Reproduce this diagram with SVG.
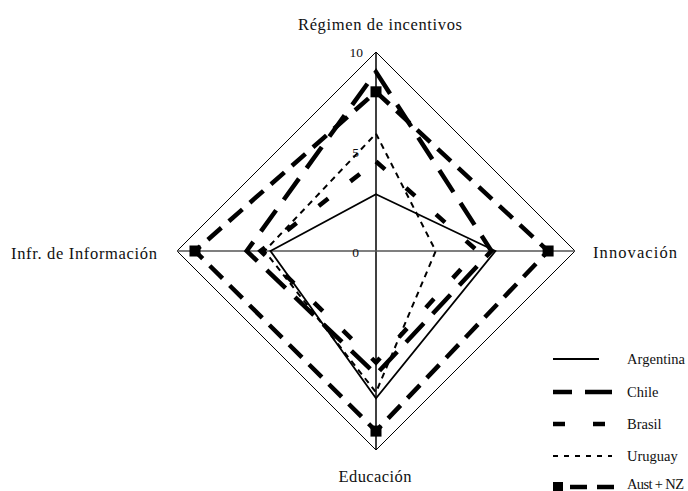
<svg xmlns="http://www.w3.org/2000/svg" width="688" height="491" viewBox="0 0 688 491">
<style>
text{font-family:"Liberation Serif","Times New Roman",serif;fill:#111}
.lab{font-size:16.5px}
.tick{font-size:13.5px}
.leg{font-size:14.5px}
.arg{fill:none;stroke:#000;stroke-width:1.8}
.chi{fill:none;stroke:#000;stroke-width:4.5;stroke-dasharray:26 13}
.bra{fill:none;stroke:#000;stroke-width:4.5;stroke-dasharray:12 28}
.uru{fill:none;stroke:#000;stroke-width:2;stroke-dasharray:6 5}
.aus{fill:none;stroke:#000;stroke-width:4.5;stroke-dasharray:18 10}
.sq{fill:#000}
</style>
<rect width="688" height="491" fill="#fff"/>
<g id="grid">
<polygon points="376,52 575,251 376,450 177,251" fill="none" stroke="#000" stroke-width="1"/>
<line x1="376" y1="52" x2="376" y2="450" stroke="#000" stroke-width="1.5"/>
<line x1="177" y1="251" x2="575" y2="251" stroke="#555" stroke-width="1.5"/>
<text class="tick" x="363" y="57" text-anchor="end">10</text>
<text class="tick" x="359" y="157" text-anchor="end">5</text>
<text class="tick" x="359" y="257" text-anchor="end">0</text>
</g>
<g id="axis-labels">
<text class="lab" x="380" y="30" text-anchor="middle" textLength="164">Régimen de incentivos</text>
<text class="lab" x="593" y="258" textLength="84">Innovación</text>
<text class="lab" x="11" y="259" textLength="146">Infr. de Información</text>
<text class="lab" x="375" y="482" text-anchor="middle" textLength="73">Educación</text>
</g>
<g id="connectors">
<polygon id="argentina" class="arg" points="376,194.3 495.4,251 376,398.3 270.5,251"/>
<polygon id="chile" class="chi" points="376,71.9 491.4,251 376,374.4 246.7,251"/>
<polygon id="brasil" class="bra" points="376,161.5 477.5,251 376,362.4 260.6,251"/>
<polygon id="uruguay" class="uru" points="376,133.6 435.7,251 376,392.3 264.6,251"/>
<polygon id="aust" class="aus" points="376,91.8 548.1,251 376,431.1 195,251"/>
</g>
<g id="markers">
<rect class="sq" x="370.5" y="86.3" width="11" height="11"/>
<rect class="sq" x="542.6" y="245.5" width="11" height="11"/>
<rect class="sq" x="370.5" y="425.6" width="11" height="11"/>
<rect class="sq" x="189.5" y="245.5" width="11" height="11"/>
</g>
<g id="legend">
<line x1="553" y1="359" x2="599" y2="359" stroke="#000" stroke-width="1.8"/>
<text class="leg" x="627" y="364" textLength="58">Argentina</text>
<line x1="553" y1="392" x2="612" y2="392" stroke="#000" stroke-width="4.5" stroke-dasharray="19 13 27"/>
<text class="leg" x="627" y="397">Chile</text>
<line x1="553" y1="424" x2="606" y2="424" stroke="#000" stroke-width="4.5" stroke-dasharray="12 28"/>
<text class="leg" x="627" y="429">Brasil</text>
<line x1="553" y1="456" x2="612" y2="456" stroke="#000" stroke-width="2" stroke-dasharray="5 6"/>
<text class="leg" x="627" y="461">Uruguay</text>
<rect class="sq" x="553" y="482" width="10" height="10"/>
<line x1="570" y1="487" x2="617" y2="487" stroke="#000" stroke-width="4.5" stroke-dasharray="17 10"/>
<text class="leg" x="627" y="489" textLength="57">Aust + NZ</text>
</g>
</svg>
